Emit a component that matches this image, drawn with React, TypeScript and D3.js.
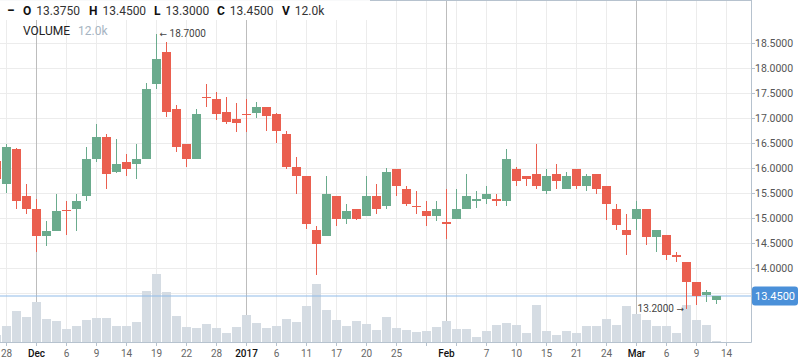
import { useEffect } from 'react';
import * as d3 from 'd3';

// trading days shown on the chart (one candle each)
const days = [
  '2016-11-25', '2016-11-28', '2016-11-29', '2016-11-30',
  '2016-12-01', '2016-12-02', '2016-12-05', '2016-12-06', '2016-12-07', '2016-12-08', '2016-12-09',
  '2016-12-12', '2016-12-13', '2016-12-14', '2016-12-15', '2016-12-16', '2016-12-19', '2016-12-20',
  '2016-12-21', '2016-12-22', '2016-12-23', '2016-12-27', '2016-12-28', '2016-12-29', '2016-12-30',
  '2017-01-03', '2017-01-04', '2017-01-05', '2017-01-06', '2017-01-09', '2017-01-10', '2017-01-11',
  '2017-01-12', '2017-01-13', '2017-01-17', '2017-01-18', '2017-01-19', '2017-01-20', '2017-01-23',
  '2017-01-24', '2017-01-25', '2017-01-26', '2017-01-27', '2017-01-30', '2017-01-31',
  '2017-02-01', '2017-02-02', '2017-02-03', '2017-02-06', '2017-02-07', '2017-02-08', '2017-02-09',
  '2017-02-10', '2017-02-13', '2017-02-14', '2017-02-15', '2017-02-16', '2017-02-17', '2017-02-21',
  '2017-02-22', '2017-02-23', '2017-02-24', '2017-02-27', '2017-02-28',
  '2017-03-01', '2017-03-02', '2017-03-03', '2017-03-06', '2017-03-07', '2017-03-08', '2017-03-09',
  '2017-03-10', '2017-03-13',
];
// empty slots on the right of the time axis
const futureDays = ['2017-03-14', '2017-03-15', '2017-03-16', '2017-03-17'];

const opens = [
  16.15, 15.69, 16.40, 15.46,
  15.19, 14.65, 14.75, 15.17, 15.19, 15.46, 16.20,
  16.64, 15.94, 16.14, 16.10, 16.20, 17.70, 18.33,
  17.19, 16.50, 16.20, 17.43, 17.39, 17.13, 16.99,
  17.09, 17.11, 17.24, 17.10, 16.70, 16.04, 15.85,
  14.78, 14.65, 15.45, 14.99, 15.19, 15.05, 15.45,
  15.25, 16.00, 15.59, 15.25, 15.15, 15.05,
  14.94, 14.99, 15.19, 15.35, 15.39, 15.39, 15.35,
  16.00, 15.85, 15.89, 15.55, 15.89, 15.59, 16.00,
  15.65, 15.89, 15.65, 15.19, 14.78,
  14.99, 15.19, 14.64, 14.68, 14.28, 14.14, 13.73,
  13.47, 13.375,
];
const highs = [
  16.20, 16.50, 16.42, 15.69,
  15.39, 14.95, 15.49, 15.35, 15.49, 16.44, 16.90,
  16.70, 16.60, 16.30, 16.50, 17.71, 18.70, 18.53,
  17.27, 16.50, 17.19, 17.69, 17.53, 17.43, 17.31,
  17.39, 17.34, 17.24, 17.12, 16.75, 16.24, 15.85,
  14.85, 15.85, 15.45, 15.29, 15.19, 15.85, 15.69,
  16.02, 16.00, 15.65, 15.55, 15.35, 15.35,
  15.59, 15.59, 15.89, 15.55, 15.65, 15.49, 16.40,
  16.04, 15.85, 16.50, 16.00, 16.10, 15.93, 16.00,
  15.89, 15.89, 15.65, 15.29, 15.09,
  15.35, 15.19, 14.78, 14.68, 14.34, 14.14, 13.73,
  13.58, 13.45,
];
const lows = [
  15.75, 15.51, 15.19, 15.09,
  14.34, 14.45, 14.75, 14.68, 14.75, 15.35, 16.14,
  15.59, 15.91, 15.86, 15.79, 16.20, 17.60, 17.03,
  16.33, 16.04, 16.20, 17.23, 16.97, 16.90, 16.74,
  16.74, 17.01, 16.75, 16.51, 16.00, 15.50, 14.79,
  13.88, 14.65, 14.85, 14.89, 14.97, 15.05, 15.09,
  15.19, 15.46, 15.25, 15.09, 14.85, 14.95,
  14.59, 14.99, 15.19, 15.21, 15.29, 15.25, 15.25,
  15.65, 15.65, 15.59, 15.49, 15.59, 15.59, 15.59,
  15.55, 15.49, 14.98, 14.78, 14.28,
  14.78, 14.48, 14.34, 14.18, 14.14, 13.20, 13.27,
  13.33, 13.30,
];
const closes = [
  15.80, 16.44, 15.36, 15.19,
  14.65, 14.75, 15.15, 15.15, 15.35, 16.20, 16.64,
  15.89, 16.10, 16.00, 16.20, 17.59, 18.19, 17.14,
  16.44, 16.20, 17.09, 17.42, 17.10, 16.94, 16.91,
  17.07, 17.24, 17.05, 16.75, 16.04, 15.86, 14.89,
  14.49, 15.49, 14.99, 15.15, 14.99, 15.45, 15.19,
  15.93, 15.66, 15.29, 15.23, 15.05, 15.19,
  14.89, 15.19, 15.45, 15.39, 15.49, 15.35, 16.20,
  15.75, 15.79, 15.65, 15.85, 15.75, 15.85, 15.65,
  15.85, 15.59, 15.29, 14.88, 14.68,
  15.19, 14.64, 14.78, 14.28, 14.24, 13.73, 13.45,
  13.53, 13.45,
];
// volume in thousands
const volumes = [
  56, 128, 248, 200,
  320, 184, 168, 104, 128, 176, 192,
  192, 128, 128, 160, 408, 544, 400,
  208, 120, 112, 144, 112, 72, 120,
  216, 152, 112, 128, 184, 160, 288,
  464, 256, 176, 128, 168, 144, 96,
  200, 112, 96, 80, 88, 120,
  168, 104, 104, 40, 88, 136, 152,
  136, 72, 296, 88, 56, 88, 72,
  128, 128, 184, 136, 288,
  224, 176, 128, 128, 72, 296, 176,
  136, 12,
];

const priceTicks = [13.5, 14, 14.5, 15, 15.5, 16, 16.5, 17, 17.5, 18, 18.5];
const tickDays = [
  '2016-11-28', '2016-12-01', '2016-12-06', '2016-12-09', '2016-12-14', '2016-12-19', '2016-12-22',
  '2016-12-28', '2017-01-03', '2017-01-06', '2017-01-11', '2017-01-17', '2017-01-20', '2017-01-25',
  '2017-02-01', '2017-02-07', '2017-02-10', '2017-02-15', '2017-02-21', '2017-02-24', '2017-03-01',
  '2017-03-06', '2017-03-09', '2017-03-14',
];
const tickLabels = [
  '28', 'Dec', '6', '9', '14', '19', '22', '28', '2017', '6', '11', '17', '20', '25',
  'Feb', '7', '10', '15', '21', '24', 'Mar', '6', '9', '14',
];
const monthStarts = ['2016-12-01', '2017-01-03', '2017-02-01', '2017-03-01'];

const lastPrice = 13.45;
const headerItems = [
  { k: 'O', v: '13.3750' },
  { k: 'H', v: '13.4500' },
  { k: 'L', v: '13.3000' },
  { k: 'C', v: '13.4500' },
  { k: 'V', v: '12.0k' },
];
const headerX = [23, 89, 154, 217, 282];

const UP = '#6bab8d';
const DOWN = '#ea5f4f';
const FONT = 'Roboto, "Noto Sans", sans-serif';

export default function App() {
  useEffect(() => {
    document.body.style.margin = '0';
  }, []);

  const width = 798;
  const height = 363;
  const right = 751;
  const bottom = 342;

  const axisDays = [...days, ...futureDays];
  const x = d3
    .scaleBand<string>()
    .domain(axisDays)
    .range([-8.5, -8.5 + 10 * axisDays.length])
    .padding(0);
  const cx = (d: string) => (x(d) as number) + x.bandwidth() / 2;

  const y = d3.scaleLinear().domain([13.5, 18.5]).range([293.5, 43.5]);
  const yv = d3.scaleLinear().domain([0, 560]).range([bottom, 272]);

  // light grid every third trading day starting Nov 28
  const gridDays = axisDays.filter((_, i) => i >= 1 && (i - 1) % 3 === 0 && cx(axisDays[i]) < right);
  const monthSet = new Set(['Dec', '2017', 'Feb', 'Mar']);
  // the last-price tag hides the tick label right under it
  const labelTicks = priceTicks.filter((p) => Math.abs(y(p) - y(lastPrice)) > 12);

  const hiIdx = d3.maxIndex(highs);
  const loIdx = d3.minIndex(lows);

  return (
    <div style={{ position: 'absolute', left: 0, top: 0 }}>
      <svg width={width} height={height} style={{ display: 'block', fontFamily: FONT }}>
        <rect width={width} height={height} fill="#fff" />

        {/* grid */}
        <g stroke="#ececec" strokeWidth={1}>
          {priceTicks.map((p) => (
            <line key={p} x1={0} x2={right} y1={y(p)} y2={y(p)} />
          ))}
          {gridDays.map((d) => (
            <line key={d} x1={cx(d)} x2={cx(d)} y1={0} y2={bottom} />
          ))}
        </g>

        {/* header background */}
        <rect x={0} y={0} width={370} height={20} fill="#fff" />

        <g stroke="#bdbdbd" strokeWidth={1}>
          {monthStarts.map((d) => (
            <line key={d} x1={cx(d)} x2={cx(d)} y1={d === '2016-12-01' || d === '2017-01-03' ? 20 : 0} y2={bottom} />
          ))}
        </g>

        {/* volume */}
        <g fill="#d5dce3" shapeRendering="crispEdges">
          {days.map((d, i) => (
            <rect
              key={d}
              x={cx(d) - 4.5}
              width={9}
              y={yv(volumes[i])}
              height={bottom - yv(volumes[i])}
            />
          ))}
        </g>

        {/* last price line */}
        <line x1={0} x2={right} y1={y(lastPrice)} y2={y(lastPrice)} stroke="#90bbe8" strokeWidth={1} />

        {/* candles */}
        <g shapeRendering="crispEdges">
          {days.map((d, i) => {
            const up = closes[i] >= opens[i];
            const color = up ? UP : DOWN;
            const top = y(Math.max(opens[i], closes[i]));
            const bot = y(Math.min(opens[i], closes[i]));
            return (
              <g key={d}>
                <line x1={cx(d)} x2={cx(d)} y1={y(highs[i])} y2={y(lows[i])} stroke={color} strokeWidth={1} />
                <rect x={cx(d) - 4.5} width={9} y={top} height={Math.max(1, bot - top)} fill={color} />
              </g>
            );
          })}
        </g>

        {/* high / low annotations */}
        <text x={cx(days[hiIdx]) + 3} y={y(highs[hiIdx]) + 3.5} fontSize={10} fill="#444">
          <tspan fontFamily="DejaVu Sans" fontSize={9}>←</tspan>
          {' ' + highs[hiIdx].toFixed(4)}
        </text>
        <text
          x={cx(days[loIdx]) - 2.5}
          y={y(lows[loIdx]) + 3.5}
          fontSize={10}
          fill="#444"
          textAnchor="end"
        >
          {lows[loIdx].toFixed(4) + ' '}
          <tspan fontFamily="DejaVu Sans" fontSize={9}>→</tspan>
        </text>

        {/* axes frame */}
        <g stroke="#b6c2ce" strokeWidth={1}>
          <line x1={0} x2={right + 0.5} y1={0.5} y2={0.5} />
          <line x1={right + 0.5} x2={right + 0.5} y1={0} y2={bottom + 0.5} />
          <line x1={0} x2={right + 0.5} y1={bottom + 0.5} y2={bottom + 0.5} />
        </g>
        <rect x={0} y={0} width={370} height={0.9} fill="#fff" />

        {/* right price axis */}
        <g fontSize={10.5} fill="#555">
          {priceTicks.map((p) => (
            <line key={p} x1={right + 0.5} x2={right + 4} y1={y(p)} y2={y(p)} stroke="#b6c2ce" />
          ))}
          {labelTicks.map((p) => (
            <text key={p} x={right + 4} y={y(p)} dy="0.35em">
              {p.toFixed(4)}
            </text>
          ))}
        </g>
        <rect x={right + 1} y={y(lastPrice) - 9.5} width={46} height={19} rx={3} fill="#4a90d9" />
        <text
          x={right + 24}
          y={y(lastPrice)}
          dy="0.36em"
          textAnchor="middle"
          fontSize={11}
          fill="#fff"
        >
          {lastPrice.toFixed(4)}
        </text>

        {/* bottom time axis */}
        <g>
          {gridDays.map((d) => (
            <line key={d} x1={cx(d)} x2={cx(d)} y1={bottom + 0.5} y2={bottom + 4} stroke="#b6c2ce" />
          ))}
          {tickDays.map((d, i) => (
            <text
              key={d}
              x={cx(d)}
              y={357}
              textAnchor="middle"
              fontSize={10}
              fill={monthSet.has(tickLabels[i]) ? '#111' : '#666'}
              fontWeight={monthSet.has(tickLabels[i]) ? 500 : 400}
            >
              {tickLabels[i]}
            </text>
          ))}
        </g>

        {/* legend */}
        <text x={7} y={15} fontSize={14} fontWeight={700} fill="#111">
          −
        </text>
        {headerItems.map((h, i) => (
          <text key={h.k} x={headerX[i]} y={15} fontSize={12}>
            <tspan fontWeight={700} fill="#111">
              {h.k}
            </tspan>
            <tspan dx={5} fill="#333">
              {h.v}
            </tspan>
          </text>
        ))}
        <text x={23} y={35} fontSize={12} fill="#222">
          VOLUME
          <tspan dx={8} fill="#a6b4c2">
            12.0k
          </tspan>
        </text>
      </svg>
    </div>
  );
}
